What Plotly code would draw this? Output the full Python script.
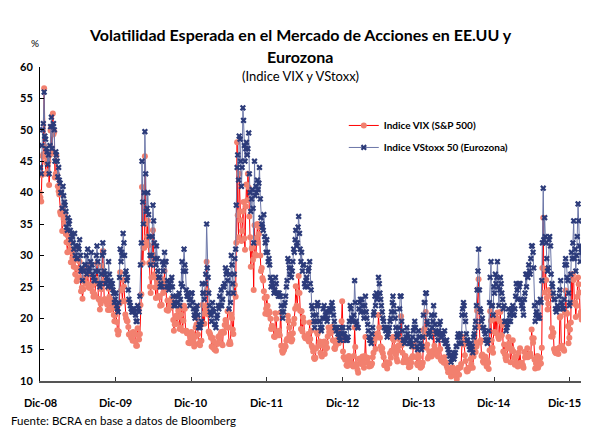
import plotly.graph_objects as go
import pandas as pd

# Valores estimados del gráfico: cierre de cada viernes y del martes previo,
# ene-2009 a feb-2016 (VIX y VStoxx 50)
vix_vie_2009 = [39.2, 42.8, 46.1, 47.3, 44.8, 43.4, 41.2, 49.9, 46.4,
                49.3, 42.4, 45.9, 41.0, 39.7, 36.5, 33.9, 35.8,
                36.5, 32.1, 33.1, 32.6, 28.9, 29.6, 28.2, 27.0, 25.9,
                27.9, 29.0, 24.3, 23.1, 25.9, 25.6, 25.5, 25.0, 24.8,
                25.3, 24.2, 23.9, 25.6, 28.7, 23.1, 21.4, 24.6, 30.7,
                23.0, 22.7, 22.2, 24.7, 21.3, 21.6, 21.7, 19.5]
vix_mar_2009 = [40.0, 38.6, 45.8, 56.6, 43.0, 45.5, 45.0, 46.0, 50.5,
                52.6, 49.7, 43.0, 42.9, 40.2, 36.9, 37.0, 37.8,
                35.0, 33.4, 30.5, 31.9, 31.0, 30.5, 29.0, 30.8, 28.0,
                26.4, 29.1, 26.5, 24.9, 24.6, 26.5, 27.8, 28.5, 24.9,
                26.9, 25.1, 23.4, 23.6, 26.3, 25.5, 22.9, 22.3, 28.3,
                26.0, 23.0, 22.8, 21.3, 23.4, 22.8, 22.4, 20.5]
vix_vie_2010 = [21.7, 18.1, 17.9, 27.3, 24.6, 26.1, 22.7, 20.0, 19.5,
                17.4, 17.6, 16.9, 17.8, 17.5, 15.6, 18.4, 16.6, 22.1,
                40.9, 31.2, 45.8, 32.1, 35.5, 28.8, 24.0, 29.0,
                30.1, 24.9, 26.3, 23.5, 23.5, 22.1, 26.2, 25.5, 24.5,
                21.3, 21.2, 22.0, 21.7, 22.5, 18.0, 19.1, 19.1, 21.2,
                18.3, 20.6, 18.0, 22.0, 18.0, 17.6, 16.1, 16.0, 17.8]
vix_mar_2010 = [20.5, 19.4, 17.4, 22.3, 24.4, 22.7, 25.0, 20.6, 19.6,
                18.6, 17.4, 16.9, 16.4, 17.6, 16.3, 15.6, 17.3, 17.5,
                23.8, 28.8, 31.2, 35.0, 33.0, 31.6, 25.0, 26.5,
                34.0, 27.0, 23.2, 25.6, 23.3, 22.0, 22.1, 24.0, 27.5,
                25.7, 22.8, 21.5, 21.8, 23.2, 19.7, 19.0, 20.4, 20.1,
                21.5, 18.5, 21.7, 19.6, 21.5, 18.0, 17.6, 16.1, 16.9]
vix_vie_2011 = [17.1, 15.5, 18.5, 20.0, 15.9, 15.7, 16.4, 19.2,
                19.1, 21.2, 24.4, 17.9, 17.4, 15.5, 15.3, 15.0, 14.8,
                15.9, 17.1, 17.4, 15.9, 17.9, 18.9, 19.0, 21.1,
                15.9, 15.9, 20.0, 17.5, 25.3, 32.0, 36.4, 43.0, 35.6,
                33.9, 38.5, 30.9, 41.3, 43.0, 36.2, 28.2, 31.3, 24.5,
                30.2, 32.8, 32.0, 34.5, 27.5, 26.4, 24.3, 20.7, 23.4]
vix_mar_2011 = [17.6, 16.2, 17.0, 19.0, 17.4, 16.0, 16.4, 22.1,
                20.7, 21.9, 29.0, 20.6, 17.7, 16.9, 16.9, 16.3, 15.0,
                16.0, 17.0, 16.7, 17.8, 15.7, 17.7, 19.7, 18.5,
                18.5, 16.3, 20.6, 18.2, 24.0, 23.4, 48.0, 32.9, 37.0,
                32.3, 37.0, 32.7, 37.8, 38.8, 40.8, 32.9, 31.1, 29.3,
                34.8, 30.0, 35.0, 33.4, 30.0, 28.0, 26.0, 23.2, 21.5]
vix_vie_2012 = [20.6, 20.9, 18.3, 18.5, 17.1, 20.8, 17.8, 17.3,
                17.3, 15.6, 14.5, 15.0, 15.5, 16.7, 19.6, 17.4, 16.3,
                17.6, 19.9, 25.1, 21.8, 26.7, 21.2, 21.1, 20.1, 17.1,
                17.1, 16.7, 16.3, 16.7, 15.6, 14.7, 13.5, 15.2, 17.5,
                15.6, 14.5, 13.9, 16.0, 14.3, 16.1, 17.1, 17.8,
                17.6, 18.6, 16.4, 15.1, 16.0, 16.6, 17.0, 18.0, 22.7]
vix_mar_2012 = [22.0, 21.1, 19.9, 18.8, 18.4, 17.0, 19.9, 17.6,
                18.0, 20.9, 14.8, 14.8, 15.6, 16.4, 20.4, 18.5, 17.1,
                16.6, 19.1, 21.5, 22.0, 24.1, 24.0, 18.3, 17.9, 19.4,
                16.8, 17.0, 17.5, 19.3, 18.0, 15.3, 13.7, 13.7, 17.8,
                17.9, 16.3, 14.2, 15.6, 16.3, 15.1, 15.3, 18.5,
                17.6, 17.8, 16.5, 15.2, 15.6, 16.5, 16.0, 17.4, 19.5]
vix_vie_2013 = [13.8, 13.4, 12.5, 12.9, 12.9, 13.0, 12.5, 14.0,
                15.4, 12.6, 11.3, 13.6, 12.7, 13.9, 12.1, 17.0, 13.6,
                12.9, 12.6, 12.5, 13.8, 16.3, 15.1, 17.2, 20.5, 16.9,
                14.9, 14.4, 12.5, 12.7, 12.0, 12.9, 14.4, 14.8, 17.0,
                15.4, 14.2, 13.1, 15.7, 16.7, 15.7, 13.0, 13.1,
                13.5, 12.9, 12.2, 12.3, 13.7, 15.4, 15.8, 13.8, 12.5]
vix_mar_2013 = [14.7, 13.8, 13.6, 12.4, 14.0, 13.7, 12.6, 12.3,
                18.5, 12.7, 11.8, 13.5, 13.3, 13.5, 12.8, 14.0, 13.5,
                13.7, 12.3, 12.4, 12.8, 14.5, 16.7, 17.5, 17.6, 18.5,
                15.5, 15.2, 13.8, 12.5, 13.0, 12.7, 12.8, 13.7, 16.8,
                16.5, 14.5, 13.5, 14.9, 16.6, 20.3, 14.5, 13.3,
                14.0, 13.4, 13.0, 12.8, 12.9, 14.0, 15.8, 16.0, 12.8]
vix_vie_2014 = [13.8, 12.1, 12.4, 18.1, 18.4, 15.3, 13.6, 14.7, 14.0,
                14.1, 17.8, 15.0, 14.4, 13.9, 17.0, 13.4, 13.3,
                12.9, 12.9, 12.4, 11.4, 11.4, 10.7, 12.2, 10.9, 11.3,
                10.3, 12.1, 12.1, 12.7, 17.0, 15.8, 13.2, 11.5, 12.1,
                12.1, 12.7, 12.1, 14.8, 14.6, 21.2, 26.2, 16.1, 14.0,
                13.1, 13.3, 12.9, 13.3, 11.9, 21.1, 16.5, 14.5]
vix_mar_2014 = [14.2, 12.9, 12.3, 12.9, 17.3, 21.0, 15.8, 13.9, 14.2,
                13.9, 14.8, 15.6, 14.6, 14.4, 14.9, 15.1, 13.2,
                13.7, 13.8, 13.0, 12.0, 11.5, 11.6, 10.9, 12.0, 11.3,
                11.2, 11.8, 11.0, 12.2, 16.0, 16.7, 14.1, 11.8, 11.6,
                12.0, 13.5, 14.1, 13.9, 16.3, 15.5, 24.6, 18.6, 16.5,
                14.2, 12.9, 13.9, 12.3, 12.9, 14.9, 19.6, 15.3]
vix_vie_2015 = [17.8, 17.6, 20.9, 16.7, 21.0, 17.3, 14.7, 14.3, 13.3,
                15.2, 16.0, 13.0, 15.1, 14.7, 12.6, 13.9, 12.3,
                12.7, 12.9, 12.4, 12.1, 13.8, 14.2, 13.8, 14.0, 14.0,
                16.8, 16.8, 12.0, 13.7, 12.1, 13.4, 12.8, 28.0, 26.1,
                27.8, 23.2, 22.3, 23.6, 17.1, 17.1, 15.1, 14.5, 15.1,
                14.3, 20.1, 15.5, 15.1, 14.8, 24.4, 20.7, 16.0]
vix_mar_2015 = [19.9, 20.0, 20.0, 17.0, 19.5, 17.3, 18.9, 15.8, 13.7,
                14.0, 17.0, 15.3, 15.0, 16.5, 13.7, 13.0, 12.7,
                14.5, 15.2, 12.9, 12.5, 14.6, 13.8, 15.2, 14.0, 14.4,
                18.2, 16.1, 13.4, 12.8, 14.0, 12.5, 13.7, 15.3, 36.0,
                24.1, 26.1, 21.4, 24.5, 23.6, 18.4, 17.7, 14.7, 14.4,
                15.0, 15.3, 20.3, 15.6, 15.1, 20.9, 20.9, 18.7]
vix_vie_2016 = [18.2, 27.0, 27.0, 22.3, 20.2, 23.4, 25.4, 20.5, 19.8]
vix_mar_2016 = [16.9, 19.3, 22.5, 26.1, 22.5, 22.0, 26.5, 24.1, 21.0]

vstoxx_vie_2009 = [44.0, 47.5, 51.0, 49.0, 47.0, 44.5, 43.0, 50.5, 47.0,
                   51.0, 45.0, 46.0, 42.5, 42.0, 40.0, 37.5, 39.5,
                   38.0, 34.5, 36.0, 35.5, 32.5, 33.0, 31.0, 30.0, 29.5,
                   31.5, 32.5, 27.5, 26.0, 27.5, 28.5, 27.0, 27.5, 28.0,
                   30.5, 27.0, 26.0, 27.5, 31.5, 27.5, 25.0, 27.0, 32.0,
                   27.5, 25.5, 26.0, 29.0, 25.5, 25.0, 24.5, 22.5]
vstoxx_mar_2009 = [44.0, 43.0, 50.0, 56.0, 48.5, 46.5, 46.0, 47.5, 52.0,
                   50.5, 50.0, 46.5, 45.0, 44.0, 41.5, 40.0, 41.0,
                   38.5, 37.0, 34.0, 35.0, 34.0, 33.5, 32.0, 33.5, 31.5,
                   29.5, 31.0, 30.0, 28.0, 27.5, 28.5, 30.0, 31.0, 27.5,
                   29.0, 28.5, 26.5, 26.0, 30.0, 29.0, 25.5, 25.5, 30.0,
                   30.5, 27.0, 26.5, 25.0, 27.0, 26.0, 25.5, 24.0]
vstoxx_vie_2010 = [24.0, 21.5, 22.5, 31.0, 30.5, 33.5, 30.0, 27.5, 26.5,
                   23.0, 22.0, 21.0, 21.5, 21.0, 19.5, 22.0, 21.0, 28.5,
                   45.0, 35.0, 49.7, 37.0, 40.0, 33.0, 28.5, 33.0,
                   35.5, 29.5, 31.5, 27.5, 26.5, 25.5, 29.0, 28.5, 29.0,
                   25.0, 25.0, 25.5, 26.0, 25.0, 22.0, 22.0, 22.5, 23.5,
                   22.0, 25.5, 25.0, 31.0, 27.5, 23.5, 23.5, 22.0, 24.0]
vstoxx_mar_2010 = [23.0, 22.0, 21.0, 26.5, 29.0, 30.0, 32.0, 27.0, 26.0,
                   24.5, 22.5, 21.5, 21.0, 21.5, 20.5, 19.5, 21.5, 23.5,
                   32.0, 38.5, 40.0, 43.0, 37.5, 36.5, 30.0, 30.0,
                   38.0, 32.0, 28.5, 29.5, 26.5, 25.0, 25.0, 27.5, 30.5,
                   29.0, 26.0, 24.5, 25.0, 26.5, 23.5, 22.5, 23.5, 22.5,
                   24.0, 23.0, 29.0, 27.5, 28.5, 24.5, 24.0, 23.0, 23.0]
vstoxx_vie_2011 = [22.5, 20.5, 21.0, 22.0, 18.5, 18.5, 19.5, 24.0,
                   23.0, 27.0, 28.0, 24.0, 21.0, 19.5, 21.5, 19.0, 18.5,
                   20.5, 21.5, 22.0, 22.0, 25.0, 25.5, 27.0, 26.0,
                   21.5, 22.5, 28.5, 24.0, 29.5, 38.0, 46.0, 49.0, 45.0,
                   44.0, 51.5, 45.0, 48.0, 47.0, 43.0, 37.0, 40.5, 32.0,
                   39.5, 40.0, 40.5, 44.0, 36.0, 34.5, 36.5, 32.0, 32.5]
vstoxx_mar_2011 = [24.0, 21.5, 20.0, 21.5, 20.5, 19.0, 19.0, 25.5,
                   24.0, 25.5, 35.0, 26.5, 22.0, 20.5, 22.5, 21.0, 19.0,
                   20.0, 22.0, 23.5, 24.5, 23.0, 25.0, 28.0, 27.5,
                   24.0, 27.0, 30.0, 25.5, 27.0, 31.0, 44.0, 42.0, 48.5,
                   41.0, 53.5, 47.5, 47.0, 46.0, 49.5, 40.0, 39.0, 37.5,
                   45.0, 41.0, 42.0, 41.5, 39.0, 35.0, 34.0, 33.0, 30.5]
vstoxx_vie_2012 = [29.0, 28.5, 25.0, 25.5, 24.0, 26.5, 24.0, 23.5,
                   23.5, 22.0, 20.0, 22.0, 23.5, 26.0, 29.0, 27.0, 26.5,
                   29.0, 30.5, 34.0, 32.0, 36.2, 31.0, 30.5, 28.5, 25.5,
                   26.0, 25.0, 28.0, 25.5, 22.0, 20.5, 18.5, 20.5, 22.5,
                   19.5, 18.5, 18.5, 21.5, 20.0, 21.0, 20.0, 21.5,
                   21.0, 22.5, 20.5, 18.5, 18.0, 17.5, 17.0, 16.5, 17.5]
vstoxx_mar_2012 = [30.5, 29.5, 26.5, 26.0, 25.0, 24.5, 25.5, 24.0,
                   24.0, 23.5, 21.0, 21.0, 22.5, 25.0, 29.5, 28.0, 28.0,
                   27.5, 31.0, 32.5, 31.5, 34.5, 33.5, 29.0, 27.5, 28.5,
                   25.0, 26.5, 27.5, 29.0, 24.5, 21.5, 19.5, 19.5, 22.0,
                   22.0, 19.5, 18.0, 20.0, 22.0, 20.5, 19.5, 21.0,
                   21.5, 22.0, 21.5, 19.5, 18.5, 18.5, 17.5, 16.5, 18.5]
vstoxx_vie_2013 = [17.5, 17.0, 16.5, 17.0, 19.5, 21.5, 19.5, 20.5,
                   22.5, 19.0, 18.5, 22.5, 21.0, 22.0, 20.0, 23.5, 20.0,
                   18.0, 16.5, 16.0, 18.5, 21.0, 22.0, 23.0, 26.5, 24.0,
                   22.0, 20.0, 18.5, 18.0, 17.0, 18.0, 19.5, 21.0, 23.5,
                   21.0, 18.5, 17.0, 18.5, 23.5, 19.5, 16.5, 16.0,
                   17.0, 17.5, 16.0, 16.5, 15.5, 18.0, 19.5, 16.5, 15.0]
vstoxx_mar_2013 = [18.5, 17.5, 16.5, 16.5, 18.5, 22.0, 20.0, 19.5,
                   26.0, 19.5, 18.5, 21.5, 23.0, 23.0, 21.0, 22.0, 21.0,
                   19.0, 17.0, 16.5, 17.5, 20.5, 23.5, 24.0, 23.5, 25.5,
                   23.0, 21.0, 19.5, 18.5, 18.5, 17.5, 18.5, 20.0, 22.5,
                   22.0, 20.0, 17.5, 17.5, 21.5, 23.5, 18.0, 16.5,
                   16.5, 18.5, 17.0, 16.0, 16.0, 17.0, 18.5, 18.5, 15.5]
vstoxx_vie_2014 = [17.0, 16.0, 15.5, 20.5, 22.5, 24.0, 19.0, 17.5, 17.0,
                   18.5, 22.0, 19.0, 17.5, 16.5, 19.0, 17.5, 17.5,
                   16.5, 16.0, 16.5, 15.0, 14.0, 13.0, 14.0, 13.5, 14.5,
                   15.5, 17.5, 17.0, 16.0, 21.5, 22.0, 19.5, 16.5, 16.0,
                   15.0, 15.0, 14.5, 17.5, 19.5, 24.5, 31.0, 21.5, 19.5,
                   18.5, 18.0, 16.5, 16.0, 18.0, 26.5, 22.0, 20.5]
vstoxx_mar_2014 = [18.0, 17.0, 15.0, 17.0, 22.5, 24.0, 19.5, 17.5, 18.0,
                   20.5, 19.5, 20.5, 18.0, 17.5, 18.0, 19.5, 17.0,
                   17.5, 18.0, 16.0, 15.5, 14.5, 14.0, 13.5, 14.5, 14.0,
                   15.5, 17.0, 16.0, 17.5, 20.5, 22.5, 20.5, 17.5, 16.5,
                   15.5, 16.0, 15.5, 17.0, 18.5, 22.0, 27.5, 24.5, 21.0,
                   20.0, 18.5, 17.5, 16.5, 16.5, 22.5, 29.0, 22.0]
vstoxx_vie_2015 = [24.0, 25.5, 29.0, 22.0, 26.5, 24.0, 21.5, 19.5, 18.0,
                   19.0, 19.5, 19.5, 21.5, 20.5, 21.5, 25.5, 23.0,
                   25.0, 23.0, 22.5, 20.5, 24.0, 25.0, 26.5, 27.5, 29.5,
                   31.5, 28.0, 19.5, 21.0, 20.0, 20.0, 22.5, 32.0, 32.5,
                   33.0, 29.5, 28.0, 33.0, 27.0, 25.0, 23.0, 21.5, 21.5,
                   21.5, 24.5, 22.5, 21.5, 23.0, 29.5, 26.5, 24.0]
vstoxx_mar_2015 = [25.0, 27.0, 26.5, 25.0, 24.5, 25.5, 23.0, 22.0, 19.5,
                   18.5, 21.5, 20.5, 21.0, 22.0, 20.5, 23.5, 24.5,
                   25.5, 25.5, 22.0, 21.5, 23.0, 27.0, 27.0, 28.5, 27.0,
                   31.5, 30.5, 22.0, 20.5, 22.5, 20.5, 23.0, 26.0, 40.7,
                   36.0, 32.0, 27.5, 32.5, 31.5, 25.5, 24.0, 23.0, 21.0,
                   22.0, 23.5, 26.0, 22.0, 21.5, 28.5, 28.5, 26.0]
vstoxx_vie_2016 = [22.5, 30.5, 32.0, 29.5, 27.5, 33.0, 35.5, 29.0, 30.5]
vstoxx_mar_2016 = [22.0, 27.0, 29.5, 35.5, 31.0, 30.0, 38.2, 31.5, 31.0]

tick_dates = ['2008-12-31', '2009-12-31', '2010-12-31', '2011-12-31',
              '2012-12-31', '2013-12-31', '2014-12-31', '2015-12-31']
tick_labels = ['Dic-08', 'Dic-09', 'Dic-10', 'Dic-11',
               'Dic-12', 'Dic-13', 'Dic-14', 'Dic-15']

vix_vie = (vix_vie_2009 + vix_vie_2010 + vix_vie_2011 + vix_vie_2012
           + vix_vie_2013 + vix_vie_2014 + vix_vie_2015 + vix_vie_2016)
vix_mar = (vix_mar_2009 + vix_mar_2010 + vix_mar_2011 + vix_mar_2012
           + vix_mar_2013 + vix_mar_2014 + vix_mar_2015 + vix_mar_2016)
vstoxx_vie = (vstoxx_vie_2009 + vstoxx_vie_2010 + vstoxx_vie_2011 + vstoxx_vie_2012
              + vstoxx_vie_2013 + vstoxx_vie_2014 + vstoxx_vie_2015 + vstoxx_vie_2016)
vstoxx_mar = (vstoxx_mar_2009 + vstoxx_mar_2010 + vstoxx_mar_2011 + vstoxx_mar_2012
              + vstoxx_mar_2013 + vstoxx_mar_2014 + vstoxx_mar_2015 + vstoxx_mar_2016)

# Intercala martes y viernes
viernes = pd.date_range('2009-01-02', periods=len(vix_vie), freq='W-FRI')
martes = viernes - pd.Timedelta(days=3)
fechas = [d for par in zip(martes, viernes) for d in par]
vix = [v for par in zip(vix_mar, vix_vie) for v in par]
vstoxx = [v for par in zip(vstoxx_mar, vstoxx_vie) for v in par]

FONT = 'Lato'

fig = go.Figure()
fig.add_trace(go.Scatter(
    x=fechas, y=vix, mode='lines+markers',
    name='<b>Indice VIX (S&P 500)</b>', legendgroup='a',
    line=dict(color='#FF0000', width=1),
    marker=dict(symbol='circle', size=6, color='#F2806F', line=dict(width=0))
))
fig.add_trace(go.Scatter(
    x=fechas, y=vstoxx, mode='lines+markers',
    name='<b>Indice VStoxx 50 (Eurozona)</b>', legendgroup='b',
    line=dict(color='#6B76A8', width=1),
    marker=dict(symbol='x', size=5.5, color='#2C3B7A', line=dict(width=0))
))

# Etiquetas del eje x como anotaciones; la última se corre un poco para no cortarse
etiquetas_x = [dict(text='<b>' + t + '</b>', x=d, y=-0.07, xref='x', yref='paper',
                    showarrow=False, yanchor='middle',
                    xshift=-5 if t == 'Dic-15' else 0,
                    font=dict(size=11, family=FONT, color='black'))
               for d, t in zip(tick_dates, tick_labels)]

# La página tiene un margen de 8 px: la figura se dimensiona para caber en la ventana
fig.update_layout(
    width=581, height=419,
    margin=dict(l=31.5, r=7, t=59, b=46),
    paper_bgcolor='white', plot_bgcolor='white',
    font=dict(family=FONT, color='black'),
    showlegend=True,
    legend=dict(x=0.5605, y=0.86, xanchor='left', yanchor='top',
                bgcolor='rgba(0,0,0,0)', font=dict(size=10, family=FONT),
                tracegroupgap=3, itemwidth=30),
    annotations=etiquetas_x + [
        dict(text='<b>Volatilidad Esperada en el Mercado de Acciones en EE.UU y</b>',
             x=0.48, y=1.102, xref='paper', yref='paper', showarrow=False,
             yanchor='middle', font=dict(size=16, family=FONT)),
        dict(text='<b>Eurozona</b>',
             x=0.48, y=1.032, xref='paper', yref='paper', showarrow=False,
             yanchor='middle', font=dict(size=16, family=FONT)),
        dict(text='(Indice VIX y VStoxx)',
             x=0.48, y=0.971, xref='paper', yref='paper', showarrow=False,
             yanchor='middle', font=dict(size=13, family=FONT)),
        dict(text='%', x=-0.0212, y=1.076, xref='paper', yref='paper',
             showarrow=False, yanchor='middle', font=dict(size=10, family=FONT)),
        dict(text='Fuente: BCRA en base a datos de Bloomberg',
             x=-0.058, y=-0.127, xref='paper', yref='paper', xanchor='left',
             yanchor='middle', showarrow=False, font=dict(size=11.5, family=FONT)),
    ],
)
fig.update_xaxes(
    range=['2008-12-31', '2016-02-28'],
    tickvals=tick_dates, showticklabels=False,
    ticks='inside', ticklen=4, tickcolor='#333',
    showline=True, linecolor='#555', linewidth=1.5,
    showgrid=False, zeroline=False, automargin=False,
)
fig.update_yaxes(
    range=[10, 60], dtick=5, tick0=10,
    ticks='inside', ticklen=4, tickcolor='black',
    showline=True, linecolor='black', linewidth=1,
    showgrid=False, zeroline=False, automargin=False,
    ticklabelstandoff=4,
    tickfont=dict(size=11, family=FONT, color='black'),
    tickprefix='<b>', ticksuffix='</b>',
)

fig.write_html("out.html")
